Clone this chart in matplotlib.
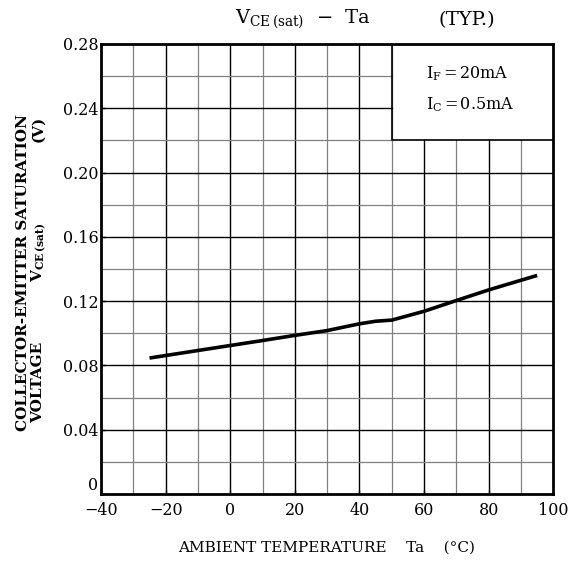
import numpy as np
import matplotlib.pyplot as plt

# curve
ta = [-25, -10, 0, 10, 20, 30, 40, 45, 50, 60, 70, 80, 95]
vce_sat = [0.0846, 0.0893, 0.0924, 0.0955, 0.0987, 0.1017, 0.1059, 0.1075, 0.1082, 0.1137, 0.1204, 0.127, 0.136]

x_ticks = [-40, -20, 0, 20, 40, 60, 80, 100]
x_labels = ["\u221240", "\u221220", "0", "20", "40", "60", "80", "100"]
y_ticks = [0, 0.04, 0.08, 0.12, 0.16, 0.20, 0.24, 0.28]
y_labels = ["0", "0.04", "0.08", "0.12", "0.16", "0.20", "0.24", "0.28"]

plt.rcParams['font.family'] = 'DejaVu Serif'
plt.rcParams['mathtext.fontset'] = 'dejavuserif'

fig = plt.figure(figsize=(5.71, 5.61), dpi=100)
ax = fig.add_axes([0.177, 0.1194, 0.792, 0.8022])
ax.set_xlim(-40, 100)
ax.set_ylim(0, 0.28)

# grid: major every 20 / 0.04, minor every 10 / 0.02
for xv in np.arange(-30, 100, 10):
    major = xv % 20 == 0
    top = 0.22 if xv > 50 else 0.28
    ax.plot([xv, xv], [0, top], color='black' if major else '#808080',
            lw=1.0 if major else 0.9, zorder=1)
for yv in np.arange(0.02, 0.28, 0.02):
    major = round(yv / 0.02) % 2 == 0
    right = 50 if yv > 0.219 else 100
    ax.plot([-40, right], [yv, yv], color='black' if major else '#808080',
            lw=1.0 if major else 0.9, zorder=1)

# condition box
ax.plot([50, 50, 100], [0.28, 0.22, 0.22], color='black', lw=1.2, zorder=2)
ax.text(60.5, 0.2615, "I$_{\\rm F}$$\\,$=$\\,$20mA", ha='left', va='center', fontsize=11.5)
ax.text(60.5, 0.2425, "I$_{\\rm C}$$\\,$=$\\,$0.5mA", ha='left', va='center', fontsize=11.5)

ax.plot(ta, vce_sat, color='black', lw=2.6, solid_capstyle='butt', zorder=3)

ax.set_xticks(x_ticks)
ax.set_xticklabels(x_labels, fontsize=11.5)
ax.set_yticks(y_ticks)
ax.set_yticklabels(y_labels, fontsize=11.5)
ax.tick_params(direction='in', length=3, width=1)
ax.tick_params(axis='x', pad=6)
ax.tick_params(axis='y', pad=2)
ax.get_yticklabels()[0].set_va('bottom')
for s in ax.spines.values():
    s.set_linewidth(2)

fig.text(0.53, 0.965, "V$_{\\rm CE\\,(sat)}$  \u2212  Ta", ha='center', va='center', fontsize=14)
fig.text(0.818, 0.965, "(TYP.)", ha='center', va='center', fontsize=14)

fig.text(0.572, 0.023, "AMBIENT TEMPERATURE    Ta    (\u00b0C)", ha='center', va='center', fontsize=11)
fig.text(0.040, 0.515, "COLLECTOR-EMITTER SATURATION", rotation=90, ha='center', va='center',
         fontsize=11, fontweight='bold')
fig.text(0.067, 0.319, "VOLTAGE", rotation=90, ha='center', va='center',
         fontsize=11, fontweight='bold')
fig.text(0.067, 0.551, "V$_{\\bf CE\\,(sat)}$", rotation=90, ha='center', va='center',
         fontsize=11, fontweight='bold')
fig.text(0.067, 0.770, "(V)", rotation=90, ha='center', va='center',
         fontsize=11, fontweight='bold')

fig.savefig("out.png", dpi=100)
